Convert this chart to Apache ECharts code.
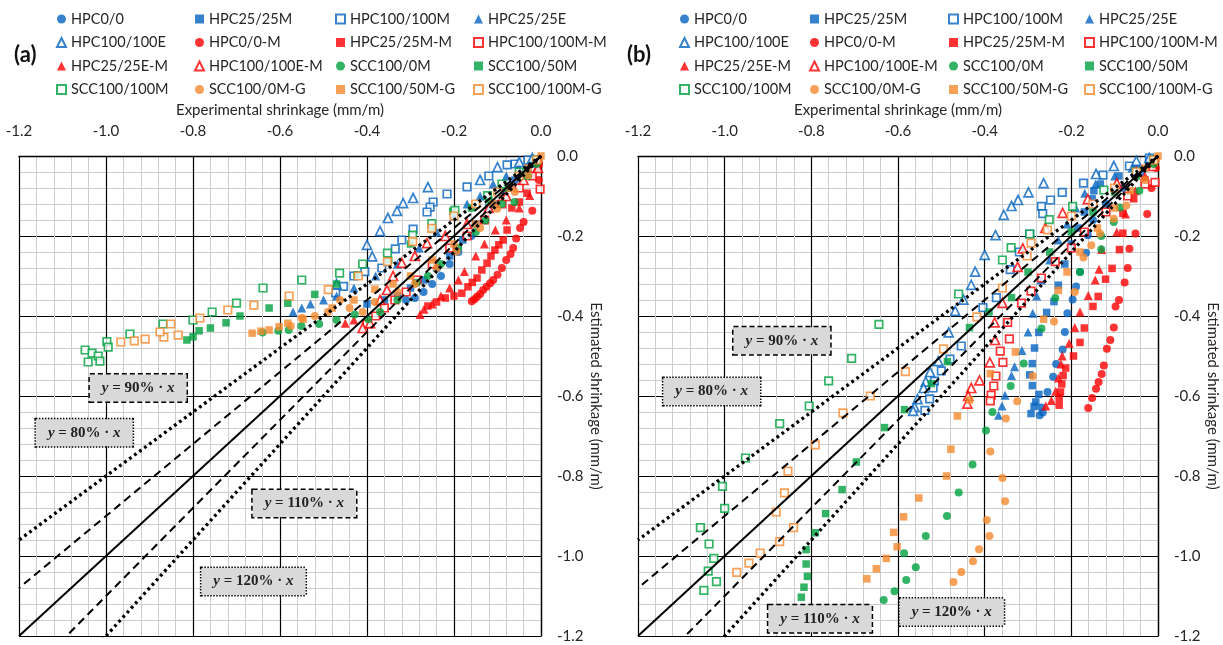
<!DOCTYPE html>
<html>
<head>
<meta charset="utf-8">
<script src="https://cdn.jsdelivr.net/npm/echarts@6/dist/echarts.min.js"></script>
<style>
  html, body { margin: 0; padding: 0; background: #fff; }
  #main { width: 1223px; height: 645px; }
</style>
</head>
<body>
<div id="main"></div>
<script>
// legend order, row by row (4 per row)
var seriesNames = ['HPC0/0', 'HPC25/25M', 'HPC100/100M', 'HPC25/25E',
  'HPC100/100E', 'HPC0/0-M', 'HPC25/25M-M', 'HPC100/100M-M',
  'HPC25/25E-M', 'HPC100/100E-M', 'SCC100/0M', 'SCC100/50M',
  'SCC100/100M', 'SCC100/0M-G', 'SCC100/50M-G', 'SCC100/100M-G'];

var axisTicks = [-1.2, -1.0, -0.8, -0.6, -0.4, -0.2, 0.0];

// reference lines y = k * x
var refRatios = [0.8, 0.9, 1.0, 1.1, 1.2];
var refLabels = ['80%', '90%', '', '110%', '120%'];

// ---- panel (a) : [experimental, estimated]
var a_HPC0_0 = [[-0.02,-0.02],[-0.04,-0.05],[-0.07,-0.08],[-0.10,-0.12],[-0.13,-0.16],[-0.16,-0.20],[-0.19,-0.24],[-0.21,-0.27],[-0.23,-0.30],[-0.25,-0.32],[-0.27,-0.34],[-0.29,-0.355],[-0.31,-0.36]];
var a_HPC25_25M = [[-0.03,-0.03],[-0.06,-0.06],[-0.09,-0.09],[-0.12,-0.13],[-0.15,-0.17],[-0.18,-0.21],[-0.21,-0.25],[-0.24,-0.28],[-0.27,-0.31],[-0.30,-0.33],[-0.33,-0.35],[-0.36,-0.36],[-0.40,-0.37]];
var a_HPC100_100M = [[-0.03,-0.01],[-0.06,-0.02],[-0.078,-0.022],[-0.12,-0.05],[-0.17,-0.077],[-0.216,-0.095],[-0.248,-0.115],[-0.255,-0.128],[-0.262,-0.14],[-0.294,-0.183],[-0.32,-0.21],[-0.335,-0.232],[-0.366,-0.28],[-0.405,-0.289],[-0.43,-0.30],[-0.454,-0.326],[-0.472,-0.342]];
var a_HPC25_25E = [[-0.02,-0.01],[-0.05,-0.03],[-0.08,-0.05],[-0.11,-0.07],[-0.14,-0.10],[-0.17,-0.12],[-0.20,-0.15],[-0.24,-0.19],[-0.28,-0.23],[-0.33,-0.27],[-0.38,-0.30],[-0.43,-0.33],[-0.47,-0.35],[-0.50,-0.36],[-0.53,-0.37],[-0.55,-0.38],[-0.57,-0.39]];
var a_HPC100_100E = [[-0.02,-0.005],[-0.05,-0.015],[-0.10,-0.028],[-0.14,-0.06],[-0.26,-0.078],[-0.294,-0.105],[-0.317,-0.118],[-0.331,-0.137],[-0.352,-0.155],[-0.37,-0.188],[-0.40,-0.222],[-0.388,-0.251],[-0.47,-0.32]];
var a_HPC0_0M = [[-0.005,-0.02],[-0.005,-0.06],[-0.02,-0.137],[-0.04,-0.165],[-0.048,-0.18],[-0.057,-0.206],[-0.064,-0.23],[-0.07,-0.245],[-0.08,-0.26],[-0.09,-0.28],[-0.10,-0.297],[-0.11,-0.31],[-0.117,-0.318],[-0.125,-0.327],[-0.133,-0.335],[-0.14,-0.345],[-0.147,-0.352],[-0.153,-0.358],[-0.159,-0.363]];
var a_HPC25_25MM = [[-0.005,-0.02],[-0.02,-0.05],[-0.032,-0.093],[-0.05,-0.115],[-0.067,-0.13],[-0.078,-0.185],[-0.087,-0.21],[-0.097,-0.222],[-0.106,-0.235],[-0.115,-0.25],[-0.124,-0.268],[-0.136,-0.285],[-0.147,-0.305],[-0.158,-0.316],[-0.168,-0.327],[-0.182,-0.343],[-0.20,-0.35],[-0.22,-0.355],[-0.24,-0.365],[-0.26,-0.375]];
var a_HPC100_100MM = [[-0.002,-0.083],[-0.02,-0.05],[-0.05,-0.08],[-0.09,-0.12],[-0.13,-0.16],[-0.17,-0.20],[-0.21,-0.23],[-0.25,-0.27],[-0.285,-0.31],[-0.31,-0.34],[-0.336,-0.36],[-0.36,-0.38],[-0.38,-0.40],[-0.40,-0.42]];
var a_HPC25_25EM = [[-0.01,-0.03],[-0.026,-0.099],[-0.05,-0.13],[-0.08,-0.16],[-0.105,-0.185],[-0.13,-0.22],[-0.15,-0.25],[-0.176,-0.289],[-0.19,-0.31],[-0.21,-0.33],[-0.23,-0.35],[-0.25,-0.37],[-0.269,-0.383],[-0.278,-0.396],[-0.43,-0.41],[-0.45,-0.418]];
var a_HPC100_100EM = [[-0.007,-0.03],[-0.04,-0.06],[-0.08,-0.10],[-0.12,-0.13],[-0.17,-0.17],[-0.22,-0.20],[-0.262,-0.218],[-0.29,-0.25],[-0.32,-0.267],[-0.34,-0.30],[-0.354,-0.335],[-0.37,-0.36],[-0.393,-0.418],[-0.41,-0.43]];
var a_SCC100_0M = [[-0.01,-0.02],[-0.03,-0.05],[-0.061,-0.115],[-0.09,-0.12],[-0.128,-0.161],[-0.15,-0.19],[-0.19,-0.23],[-0.23,-0.27],[-0.26,-0.30],[-0.286,-0.317],[-0.33,-0.36],[-0.37,-0.39],[-0.397,-0.408],[-0.428,-0.396],[-0.47,-0.41],[-0.51,-0.42],[-0.551,-0.425],[-0.58,-0.435],[-0.604,-0.437],[-0.64,-0.441]];
var a_SCC100_50M = [[-0.01,-0.01],[-0.04,-0.05],[-0.08,-0.08],[-0.12,-0.11],[-0.16,-0.13],[-0.203,-0.138],[-0.25,-0.18],[-0.30,-0.22],[-0.35,-0.26],[-0.423,-0.297],[-0.47,-0.32],[-0.52,-0.346],[-0.582,-0.368],[-0.625,-0.38],[-0.692,-0.40],[-0.724,-0.417],[-0.76,-0.43],[-0.786,-0.437],[-0.80,-0.452],[-0.814,-0.46]];
var a_SCC100_100M = [[-0.01,-0.01],[-0.05,-0.04],[-0.09,-0.07],[-0.123,-0.099],[-0.198,-0.136],[-0.251,-0.169],[-0.295,-0.198],[-0.353,-0.243],[-0.41,-0.27],[-0.463,-0.293],[-0.55,-0.31],[-0.639,-0.33],[-0.70,-0.368],[-0.756,-0.39],[-0.80,-0.41],[-0.869,-0.42],[-0.945,-0.445],[-0.998,-0.464],[-0.995,-0.478],[-1.048,-0.485],[-1.032,-0.493],[-1.018,-0.50],[-1.041,-0.515],[-1.014,-0.513]];
var a_SCC100_0MG = [[-0.005,-0.01],[-0.03,-0.049],[-0.06,-0.09],[-0.101,-0.132],[-0.14,-0.18],[-0.194,-0.239],[-0.24,-0.28],[-0.29,-0.32],[-0.33,-0.34],[-0.382,-0.365],[-0.41,-0.39],[-0.44,-0.38],[-0.462,-0.36],[-0.49,-0.39],[-0.52,-0.40],[-0.55,-0.405],[-0.575,-0.425]];
var a_SCC100_50MG = [[0,0],[-0.03,-0.03],[-0.07,-0.08],[-0.11,-0.12],[-0.15,-0.17],[-0.20,-0.22],[-0.25,-0.26],[-0.30,-0.30],[-0.34,-0.32],[-0.382,-0.333],[-0.43,-0.36],[-0.48,-0.38],[-0.547,-0.408],[-0.582,-0.418],[-0.602,-0.427],[-0.625,-0.435],[-0.644,-0.438],[-0.664,-0.443]];
var a_SCC100_100MG = [[-0.01,-0.01],[-0.05,-0.05],[-0.10,-0.09],[-0.15,-0.12],[-0.20,-0.15],[-0.251,-0.181],[-0.295,-0.214],[-0.353,-0.264],[-0.42,-0.30],[-0.489,-0.334],[-0.579,-0.35],[-0.66,-0.373],[-0.72,-0.385],[-0.784,-0.405],[-0.834,-0.448],[-0.851,-0.42],[-0.867,-0.453],[-0.876,-0.44],[-0.91,-0.458],[-0.935,-0.462],[-0.966,-0.465]];

// ---- panel (b)
var b_HPC0_0 = [[-0.01,-0.01],[-0.04,-0.04],[-0.08,-0.08],[-0.12,-0.12],[-0.15,-0.16],[-0.162,-0.198],[-0.166,-0.242],[-0.18,-0.29],[-0.189,-0.326],[-0.197,-0.359],[-0.209,-0.393],[-0.215,-0.44],[-0.22,-0.484],[-0.235,-0.52],[-0.242,-0.552],[-0.255,-0.59],[-0.269,-0.629],[-0.266,-0.641],[-0.273,-0.648]];
var b_HPC25_25M = [[-0.02,-0.01],[-0.05,-0.03],[-0.09,-0.05],[-0.133,-0.07],[-0.148,-0.087],[-0.152,-0.107],[-0.17,-0.14],[-0.185,-0.18],[-0.20,-0.22],[-0.215,-0.27],[-0.23,-0.323],[-0.24,-0.364],[-0.257,-0.391],[-0.275,-0.441],[-0.285,-0.48],[-0.29,-0.519],[-0.296,-0.547],[-0.29,-0.574],[-0.275,-0.596],[-0.282,-0.615],[-0.286,-0.626],[-0.293,-0.644]];
var b_HPC100_100M = [[-0.02,-0.005],[-0.066,-0.025],[-0.127,-0.048],[-0.172,-0.068],[-0.221,-0.091],[-0.248,-0.11],[-0.269,-0.126],[-0.266,-0.144],[-0.296,-0.195],[-0.32,-0.24],[-0.341,-0.284],[-0.373,-0.354],[-0.404,-0.379],[-0.454,-0.475],[-0.48,-0.508],[-0.50,-0.537],[-0.516,-0.563],[-0.519,-0.58],[-0.527,-0.607],[-0.538,-0.636]];
var b_HPC25_25E = [[-0.02,-0.01],[-0.06,-0.03],[-0.10,-0.05],[-0.144,-0.07],[-0.169,-0.093],[-0.19,-0.13],[-0.21,-0.17],[-0.23,-0.21],[-0.25,-0.26],[-0.27,-0.31],[-0.28,-0.35],[-0.289,-0.393],[-0.30,-0.44],[-0.314,-0.486],[-0.331,-0.527],[-0.338,-0.549],[-0.353,-0.598],[-0.36,-0.625],[-0.368,-0.648]];
var b_HPC100_100E = [[-0.02,-0.005],[-0.05,-0.012],[-0.102,-0.025],[-0.143,-0.045],[-0.264,-0.068],[-0.299,-0.091],[-0.323,-0.11],[-0.338,-0.125],[-0.356,-0.147],[-0.375,-0.198],[-0.40,-0.247],[-0.422,-0.289],[-0.431,-0.322],[-0.449,-0.359],[-0.468,-0.387],[-0.483,-0.441],[-0.507,-0.513],[-0.526,-0.54],[-0.536,-0.564],[-0.541,-0.58],[-0.555,-0.608],[-0.562,-0.627],[-0.565,-0.637]];
var b_HPC0_0M = [[-0.005,-0.03],[-0.015,-0.08],[-0.025,-0.145],[-0.052,-0.194],[-0.066,-0.232],[-0.07,-0.28],[-0.077,-0.316],[-0.09,-0.36],[-0.098,-0.376],[-0.102,-0.429],[-0.11,-0.46],[-0.118,-0.482],[-0.125,-0.524],[-0.13,-0.545],[-0.137,-0.565],[-0.143,-0.582],[-0.152,-0.605],[-0.161,-0.63]];
var b_HPC25_25MM = [[-0.01,-0.02],[-0.03,-0.06],[-0.056,-0.107],[-0.081,-0.143],[-0.081,-0.193],[-0.089,-0.234],[-0.106,-0.281],[-0.121,-0.308],[-0.138,-0.351],[-0.15,-0.376],[-0.17,-0.43],[-0.18,-0.466],[-0.195,-0.50],[-0.213,-0.53],[-0.219,-0.549],[-0.222,-0.57],[-0.225,-0.59],[-0.228,-0.605],[-0.228,-0.623]];
var b_HPC100_100MM = [[-0.007,-0.066],[-0.03,-0.07],[-0.07,-0.10],[-0.12,-0.14],[-0.17,-0.19],[-0.20,-0.23],[-0.237,-0.264],[-0.269,-0.305],[-0.293,-0.338],[-0.315,-0.368],[-0.347,-0.416],[-0.343,-0.457],[-0.364,-0.488],[-0.358,-0.516],[-0.374,-0.55],[-0.379,-0.575],[-0.385,-0.598],[-0.387,-0.612]];
var b_HPC25_25EM = [[-0.01,-0.02],[-0.03,-0.05],[-0.052,-0.087],[-0.075,-0.145],[-0.095,-0.19],[-0.13,-0.234],[-0.136,-0.283],[-0.145,-0.31],[-0.161,-0.349],[-0.18,-0.39],[-0.192,-0.429],[-0.205,-0.468],[-0.221,-0.50],[-0.224,-0.52],[-0.23,-0.555],[-0.236,-0.588],[-0.246,-0.611],[-0.259,-0.625]];
var b_HPC100_100EM = [[-0.012,-0.025],[-0.05,-0.04],[-0.095,-0.068],[-0.162,-0.108],[-0.22,-0.142],[-0.26,-0.18],[-0.312,-0.231],[-0.324,-0.277],[-0.359,-0.367],[-0.377,-0.416],[-0.376,-0.46],[-0.388,-0.516],[-0.412,-0.561],[-0.431,-0.58],[-0.438,-0.60],[-0.44,-0.619]];
var b_SCC100_0M = [[-0.01,-0.02],[-0.043,-0.087],[-0.088,-0.129],[-0.102,-0.165],[-0.131,-0.20],[-0.131,-0.233],[-0.18,-0.29],[-0.237,-0.355],[-0.269,-0.431],[-0.31,-0.519],[-0.34,-0.575],[-0.382,-0.64],[-0.397,-0.686],[-0.428,-0.771],[-0.46,-0.841],[-0.487,-0.90],[-0.536,-0.95],[-0.586,-0.993],[-0.559,-1.028],[-0.581,-1.06],[-0.608,-1.088],[-0.633,-1.11]];
var b_SCC100_50M = [[-0.01,-0.01],[-0.05,-0.05],[-0.10,-0.09],[-0.15,-0.14],[-0.20,-0.19],[-0.25,-0.24],[-0.30,-0.29],[-0.338,-0.354],[-0.39,-0.39],[-0.435,-0.429],[-0.486,-0.514],[-0.523,-0.569],[-0.585,-0.634],[-0.631,-0.679],[-0.696,-0.765],[-0.729,-0.834],[-0.767,-0.894],[-0.791,-0.942],[-0.812,-0.984],[-0.812,-1.02],[-0.809,-1.051],[-0.817,-1.078],[-0.823,-1.103]];
var b_SCC100_100M = [[-0.01,-0.01],[-0.05,-0.04],[-0.125,-0.085],[-0.197,-0.126],[-0.251,-0.159],[-0.296,-0.195],[-0.339,-0.229],[-0.359,-0.26],[-0.46,-0.345],[-0.644,-0.421],[-0.707,-0.506],[-0.76,-0.562],[-0.805,-0.625],[-0.873,-0.669],[-0.952,-0.755],[-1.005,-0.826],[-1.0,-0.881],[-1.056,-0.929],[-1.036,-0.97],[-1.025,-1.006],[-1.038,-1.038],[-1.019,-1.064],[-1.048,-1.086]];
var b_SCC100_0MG = [[-0.005,-0.01],[-0.03,-0.06],[-0.073,-0.124],[-0.102,-0.157],[-0.134,-0.194],[-0.154,-0.223],[-0.172,-0.254],[-0.192,-0.34],[-0.24,-0.414],[-0.289,-0.55],[-0.325,-0.613],[-0.351,-0.656],[-0.387,-0.739],[-0.359,-0.805],[-0.353,-0.863],[-0.395,-0.91],[-0.389,-0.95],[-0.413,-0.983],[-0.427,-1.013],[-0.454,-1.04],[-0.472,-1.065]];
var b_SCC100_50MG = [[0,0],[-0.03,-0.03],[-0.064,-0.087],[-0.10,-0.13],[-0.14,-0.18],[-0.18,-0.24],[-0.21,-0.29],[-0.23,-0.336],[-0.264,-0.408],[-0.329,-0.49],[-0.387,-0.544],[-0.435,-0.61],[-0.463,-0.65],[-0.478,-0.733],[-0.488,-0.80],[-0.552,-0.855],[-0.587,-0.902],[-0.61,-0.941],[-0.602,-0.977],[-0.627,-1.006],[-0.65,-1.032],[-0.672,-1.057]];
var b_SCC100_100MG = [[-0.01,-0.01],[-0.05,-0.04],[-0.10,-0.08],[-0.15,-0.12],[-0.20,-0.15],[-0.255,-0.185],[-0.293,-0.218],[-0.302,-0.25],[-0.359,-0.33],[-0.418,-0.402],[-0.495,-0.482],[-0.583,-0.539],[-0.664,-0.60],[-0.727,-0.642],[-0.791,-0.722],[-0.854,-0.788],[-0.862,-0.842],[-0.881,-0.89],[-0.841,-0.929],[-0.873,-0.964],[-0.918,-0.993],[-0.944,-1.018],[-0.972,-1.041]];

var panelA = [a_HPC0_0, a_HPC25_25M, a_HPC100_100M, a_HPC25_25E, a_HPC100_100E, a_HPC0_0M, a_HPC25_25MM, a_HPC100_100MM,
  a_HPC25_25EM, a_HPC100_100EM, a_SCC100_0M, a_SCC100_50M, a_SCC100_100M, a_SCC100_0MG, a_SCC100_50MG, a_SCC100_100MG];
var panelB = [b_HPC0_0, b_HPC25_25M, b_HPC100_100M, b_HPC25_25E, b_HPC100_100E, b_HPC0_0M, b_HPC25_25MM, b_HPC100_100MM,
  b_HPC25_25EM, b_HPC100_100EM, b_SCC100_0M, b_SCC100_50M, b_SCC100_100M, b_SCC100_0MG, b_SCC100_50MG, b_SCC100_100MG];

// label box centres [x, y] for 80%, 90%, 110%, 120%
var boxPosA = [[-1.05, -0.692], [-0.926, -0.58], null, [-0.544, -0.869], [-0.661, -1.064]];
var boxPosB = [[-1.03, -0.589], [-0.868, -0.462], null, [-0.78, -1.157], [-0.476, -1.14]];

var blue = '#0563C1', red = '#FF0000', green = '#00A03E', orange = '#F58A2E';
var markColors = [blue, blue, blue, blue, blue, red, red, red, red, red, green, green, green, orange, orange, orange];
var markShapes = ['circle', 'rect', 'rect', 'triangle', 'triangle', 'circle', 'rect', 'rect',
  'triangle', 'triangle', 'circle', 'rect', 'rect', 'circle', 'rect', 'rect'];
var markHollow = [false, false, true, false, true, false, false, true, false, true, false, false, true, false, false, true];

var txtFont = 'Lato';
var txtColor = '#262626';

var chartDom = document.getElementById('main');
var myChart = echarts.init(chartDom, null, { renderer: 'canvas' });

function makeXAxis(g) {
  return {
    gridIndex: g, type: 'value', position: 'top',
    min: axisTicks[0], max: axisTicks[axisTicks.length - 1], interval: 0.2,
    name: 'Experimental shrinkage (mm/m)', nameLocation: 'middle', nameGap: 38,
    nameTextStyle: { fontSize: 15, color: txtColor, fontFamily: txtFont },
    axisLine: { show: true, onZero: false, lineStyle: { color: '#000', width: 1.3 } },
    axisTick: { show: false },
    axisLabel: { fontSize: 15, color: txtColor, fontFamily: txtFont, margin: 17,
      formatter: function (v) { return v.toFixed(1); } },
    splitLine: { show: true, lineStyle: { color: '#000', width: 1.2 } },
    minorTick: { show: false, splitNumber: 5 },
    minorSplitLine: { show: true, lineStyle: { color: '#cdcdcd', width: 1 } }
  };
}

function makeYAxis(g) {
  return {
    gridIndex: g, type: 'value', position: 'right',
    min: axisTicks[0], max: axisTicks[axisTicks.length - 1], interval: 0.2,
    name: 'Estimated shrinkage (mm/m)', nameLocation: 'middle', nameGap: 47, nameRotate: -90,
    nameTextStyle: { fontSize: 15, color: txtColor, fontFamily: txtFont },
    axisLine: { show: true, onZero: false, lineStyle: { color: '#000', width: 1.3 } },
    axisTick: { show: false },
    axisLabel: { fontSize: 15, color: txtColor, fontFamily: txtFont, margin: 16,
      formatter: function (v) { return v.toFixed(1); } },
    splitLine: { show: true, lineStyle: { color: '#000', width: 1.2 } },
    minorTick: { show: false, splitNumber: 5 },
    minorSplitLine: { show: true, lineStyle: { color: '#cdcdcd', width: 1 } }
  };
}

var series = [];

function addPanel(g, data) {
  for (var i = 0; i < seriesNames.length; i++) {
    var c = markColors[i];
    series.push({
      name: seriesNames[i],
      type: 'scatter',
      xAxisIndex: g, yAxisIndex: g,
      symbol: markShapes[i],
      symbolSize: markShapes[i] === 'triangle' ? 9 : (markShapes[i] === 'circle' ? 8 : 7.5),
      itemStyle: markHollow[i]
        ? { color: '#fff', borderColor: c, borderWidth: 1.7 }
        : { color: c },
      data: data[i],
      z: 2
    });
  }
}

function addRefLines(g, boxPos) {
  for (var k = 0; k < refRatios.length; k++) {
    var r = refRatios[k];
    var dev = Math.abs(r - 1);
    var lineType = dev < 0.01 ? 'solid' : (dev < 0.15 ? [8, 5] : [2.8, 3.4]);
    var s = {
      type: 'line',
      xAxisIndex: g, yAxisIndex: g,
      data: [[0, 0], [axisTicks[0], axisTicks[0] * r]],
      symbol: 'none', clip: true, silent: true, z: 4,
      lineStyle: { color: '#000', width: dev > 0.15 ? 3.3 : 2, type: lineType }
    };
    if (boxPos[k]) {
      s.markPoint = {
        symbol: 'rect', symbolSize: 1, silent: true,
        itemStyle: { color: 'transparent' },
        data: [{ coord: boxPos[k] }],
        label: {
          show: true, position: 'inside',
          formatter: '{i|y} = ' + refLabels[k] + ' \u00B7 {i|x}',
          fontFamily: 'Liberation Serif', fontWeight: 'bold', fontSize: 15, color: '#222',
          backgroundColor: '#d9d9d9', borderColor: '#000', borderWidth: 1.5,
          borderType: dev < 0.15 ? [5, 3] : [1.5, 1.5],
          padding: [6, 12],
          rich: { i: { fontFamily: 'Liberation Serif', fontStyle: 'italic', fontWeight: 'bold', fontSize: 15, color: '#222' } }
        }
      };
    }
    series.push(s);
  }
}

addPanel(0, panelA);
addPanel(1, panelB);
addRefLines(0, boxPosA);
addRefLines(1, boxPosB);

// four vertical legend columns per panel so the columns line up
var legendColsA = [56, 194, 335, 473];
var legendColsB = [679, 809, 948, 1084];
var legends = [];
[legendColsA, legendColsB].forEach(function (cols) {
  cols.forEach(function (left, c) {
    legends.push({
      orient: 'vertical', left: left, top: 10, padding: 0,
      itemWidth: 9, itemHeight: 9, itemGap: 5.5,
      selectedMode: false,
      textStyle: { fontSize: 14.5, lineHeight: 18, color: txtColor, fontFamily: txtFont },
      data: [seriesNames[c], seriesNames[c + 4], seriesNames[c + 8], seriesNames[c + 12]]
    });
  });
});

var option = {
  backgroundColor: '#fff',
  animation: false,
  grid: [
    { left: 19, top: 156, width: 522, height: 480, outerBoundsMode: 'none' },
    { left: 638, top: 156, width: 520, height: 480, outerBoundsMode: 'none' }
  ],
  xAxis: [makeXAxis(0), makeXAxis(1)],
  yAxis: [makeYAxis(0), makeYAxis(1)],
  legend: legends,
  graphic: [
    { type: 'text', left: 14, top: 44, style: { text: '(a)', fontSize: 22, fontWeight: 'bold', fontFamily: txtFont, fill: '#111' } },
    { type: 'text', left: 627, top: 44, style: { text: '(b)', fontSize: 22, fontWeight: 'bold', fontFamily: txtFont, fill: '#111' } }
  ],
  series: series
};

if (option && typeof option === 'object') {
  myChart.setOption(option);
}

window.addEventListener('resize', myChart.resize);
</script>
</body>
</html>
